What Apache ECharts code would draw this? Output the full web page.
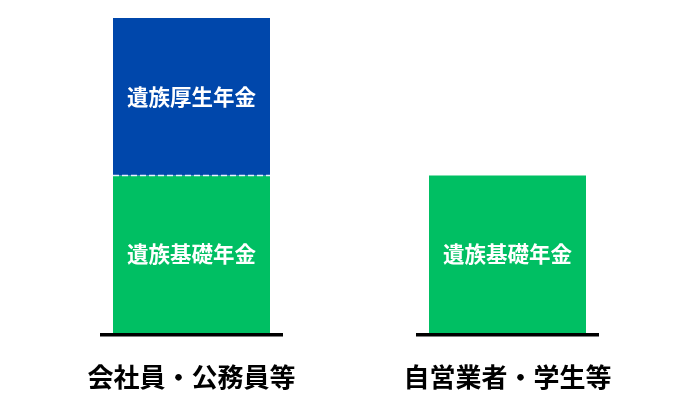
<!DOCTYPE html>
<html><head><meta charset="utf-8">
<script src="https://cdn.jsdelivr.net/npm/echarts@6/dist/echarts.min.js"></script>
<style>html,body{margin:0;padding:0;background:#fff}#c{width:700px;height:420px}</style>
</head><body><div id="c"></div>
<script>
var categories = ['会社員・公務員等', '自営業者・学生等'];
var kisoName = '遺族基礎年金';
var koseiName = '遺族厚生年金';
var kisoValues = [1, 1];
var koseiValues = [1, '-'];
var baselineValues = [0, 0];

var chart = echarts.init(document.getElementById('c'));
var FONT = '"Noto Sans CJK JP", "Noto Sans", sans-serif';
chart.setOption({
  animation: false,
  backgroundColor: '#ffffff',
  grid: {left: 33.5, right: 34.5, top: 18, bottom: 87},
  xAxis: {
    type: 'category', data: categories,
    axisLine: {show: false}, axisTick: {show: false},
    axisLabel: {margin: 31, fontSize: 26, fontWeight: 'bold', color: '#000000', fontFamily: FONT}
  },
  yAxis: {type: 'value', min: 0, max: 2, show: false, splitLine: {show: false}},
  series: [
    {
      name: kisoName, type: 'bar', stack: 'a', data: kisoValues, barWidth: 157,
      itemStyle: {color: '#00BF63'},
      label: {show: true, position: 'inside', formatter: '{a}', color: '#ffffff', fontSize: 21.5, fontWeight: 'bold', fontFamily: FONT}
    },
    {
      name: koseiName, type: 'bar', stack: 'a', data: koseiValues, barWidth: 157,
      itemStyle: {color: '#0047AB'},
      label: {show: true, position: 'inside', formatter: '{a}', color: '#ffffff', fontSize: 21.5, fontWeight: 'bold', fontFamily: FONT}
    },
    {
      type: 'custom', z: 5,
      data: koseiValues.map(function (v, i) { return v === '-' ? null : [i, kisoValues[i]]; }).filter(Boolean),
      renderItem: function (params, api) {
        var p = api.coord([api.value(0), api.value(1)]);
        return {
          type: 'line',
          shape: {x1: p[0] - 78.5, y1: p[1], x2: p[0] + 78.5, y2: p[1]},
          style: {stroke: '#e8f2ff', lineWidth: 1.5, lineDash: [6, 3]}
        };
      }
    },
    {
      type: 'scatter', data: baselineValues, symbol: 'rect', symbolSize: [183, 3.5],
      symbolOffset: [0, 1.8], itemStyle: {color: '#000000', opacity: 1}, z: 6, silent: true
    }
  ]
});
</script></body></html>
